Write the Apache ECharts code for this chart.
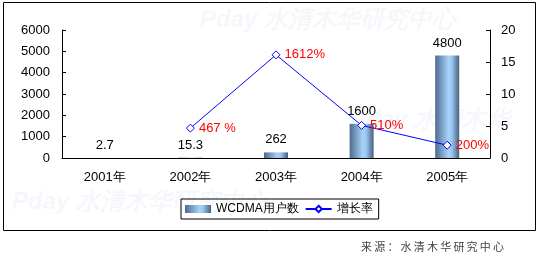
<!DOCTYPE html>
<html><head><meta charset="utf-8">
<script src="https://cdn.jsdelivr.net/npm/echarts@6/dist/echarts.min.js"></script>
<style>html,body{margin:0;padding:0;background:#fff}#c{width:538px;height:262px}</style>
</head><body><div id="c"></div>
<script>
const categories = ['2001年','2002年','2003年','2004年','2005年'];
const users = [2.7, 15.3, 262, 1600, 4800];
const growth = [null, 4.67, 16.12, 5.10, 2.00];
const growthLabels = ['', '467 %', '1612%', '510%', '200%'];
const sourceText = '来源：水清木华研究中心';
const font = 'Liberation Sans, Arial, sans-serif';
const chart = echarts.init(document.getElementById('c'), null, {renderer:'canvas'});
const barGrad = new echarts.graphic.LinearGradient(0,0,1,0,[
  {offset:0,color:'#4d6a8c'},{offset:0.55,color:'#a6d2fb'},{offset:0.7,color:'#98c4ee'},{offset:1,color:'#46607e'}]);
const wm = '#f5f7fb';
const srcChars = Array.from(sourceText).map((ch,i)=>({type:'text',x:361+i*13.2,y:241,
  style:{text:ch,font:'11px Noto Sans CJK SC',fill:'#444'}}));
chart.setOption({
  animation:false,
  graphic:[
    {type:'rect',shape:{x:3.5,y:2.5,width:532,height:228},style:{fill:'none',stroke:'#000',lineWidth:1},z:-1},
    {type:'text',x:200,y:8,style:{text:'Pday 水清木华研究中心',font:'italic bold 24px '+font,fill:wm},z:-2},
    {type:'text',x:350,y:108,style:{text:'Pday 水清木华',font:'italic bold 24px '+font,fill:wm},z:-2},
    {type:'text',x:12,y:190,style:{text:'Pday 水清木华研究中心',font:'italic bold 24px '+font,fill:wm},z:-2}
  ].concat(srcChars),
  grid:{left:62,right:48,top:30,bottom:104},
  legend:{
    left:181,top:199,itemGap:6,itemWidth:26,itemHeight:8,padding:[4,6,4,4],
    borderColor:'#000',borderWidth:1,
    textStyle:{fontFamily:font,fontSize:12,color:'#000'},
    data:[{name:'WCDMA用户数',icon:'rect'},{name:'增长率'}]
  },
  xAxis:{type:'category',data:categories,
    axisLine:{lineStyle:{color:'#000'}},
    axisTick:{inside:true,length:4,lineStyle:{color:'#000'}},
    axisLabel:{color:'#000',fontFamily:font,fontSize:13,margin:13}},
  yAxis:[
    {type:'value',min:0,max:6000,interval:1000,splitLine:{show:false},
     axisLine:{show:true,lineStyle:{color:'#000'}},
     axisTick:{show:true,inside:true,length:4,lineStyle:{color:'#000'}},
     axisLabel:{color:'#000',fontFamily:font,fontSize:13,margin:12,formatter:v=>String(v)}},
    {type:'value',min:0,max:20,interval:5,splitLine:{show:false},position:'right',
     axisLine:{show:true,lineStyle:{color:'#000'}},
     axisTick:{show:true,inside:true,length:4,lineStyle:{color:'#000'}},
     axisLabel:{color:'#000',fontFamily:font,fontSize:13,margin:11,formatter:v=>String(v)}}
  ],
  series:[
    {name:'WCDMA用户数',type:'bar',data:users,barWidth:24,
     itemStyle:{color:barGrad},
     label:{show:true,position:'top',distance:6,color:'#000',fontFamily:font,fontSize:13,
       formatter:p=>String(users[p.dataIndex])}},
    {name:'增长率',type:'line',yAxisIndex:1,data:growth,
     symbol:'diamond',symbolSize:8,
     lineStyle:{color:'#0000ff',width:1},
     itemStyle:{color:'#fff',borderColor:'#0000ff',borderWidth:1},
     label:{show:true,position:'right',distance:4,color:'#ff0000',fontFamily:font,fontSize:13,
       formatter:p=>growthLabels[p.dataIndex]}}
  ]
});
</script></body></html>
